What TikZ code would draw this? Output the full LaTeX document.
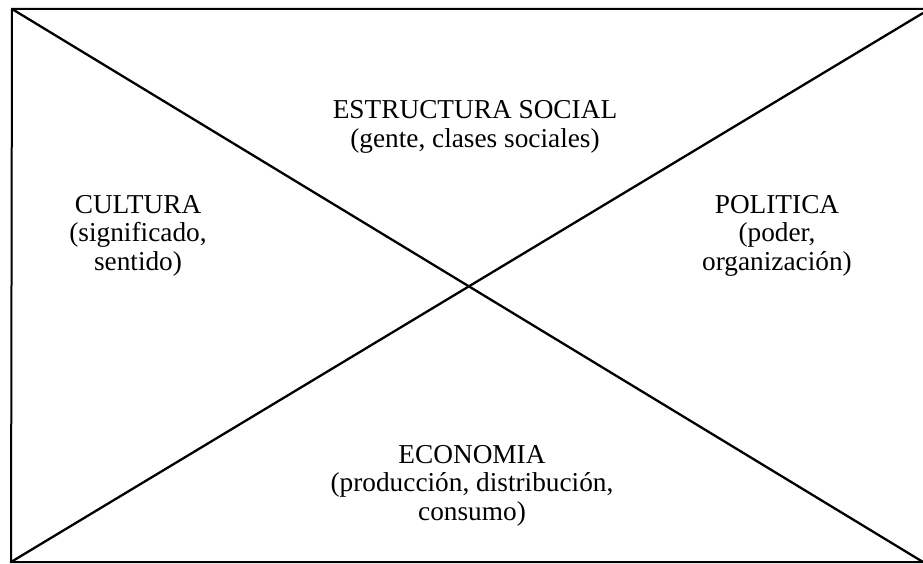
\documentclass[tikz,border=0pt]{standalone}
\usepackage{fontspec}
\setmainfont{Liberation Serif}
\begin{document}
\begin{tikzpicture}[x=1pt,y=-1pt,
  frame/.style={line width=2pt, line cap=butt},
  diag/.style={line width=2.3pt},
  label/.style={align=center, inner sep=0pt, anchor=base,
    font=\fontsize{27.3}{28.5}\selectfont}]
\useasboundingbox (0,0) rectangle (923,564);
\coordinate (TL) at (12,9);
\coordinate (TR) at (923,9);
\coordinate (BL) at (11,562);
\coordinate (BR) at (923,562);
\coordinate (TRd) at (923,13);
\draw[frame] (TR) -- (TL) -- (BL) -- (BR);
\draw[diag] (TL) -- (BR);
\draw[diag] (BL) -- (TRd);
\node[label] (soc) at (475,147.5) {ESTRUCTURA SOCIAL\\(gente, clases sociales)};
\node[label] (cul) at (138,270) {CULTURA\\(significado,\\sentido)};
\node[label] (pol) at (777,270) {POLITICA\\(poder,\\organización)};
\node[label] (eco) at (472,520) {ECONOMIA\\(producción, distribución,\\consumo)};
\end{tikzpicture}
\end{document}
